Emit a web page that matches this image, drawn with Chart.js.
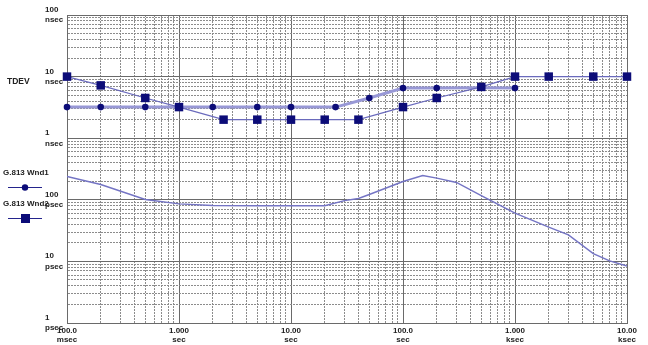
<!DOCTYPE html>
<html>
<head>
<meta charset="utf-8">
<title>TDEV</title>
<script src="https://cdn.jsdelivr.net/npm/chart.js@4"></script>
<style>
  html, body { margin: 0; padding: 0; background: #fff; }
  canvas { display: block; }
</style>
</head>
<body>
<canvas id="chart" width="648" height="345"></canvas>
<script>
// tau in seconds, TDEV in nsec
const wnd1Tau = [0.1, 0.2, 0.5, 1, 2, 5, 10, 25, 50, 100, 200, 500, 1000];
const wnd1Tdev = [3.2, 3.2, 3.2, 3.2, 3.2, 3.2, 3.2, 3.2, 4.5, 6.5, 6.5, 6.6, 6.5];

const wnd2Tau = [0.1, 0.2, 0.5, 1, 2.5, 5, 10, 20, 40, 100, 200, 500, 1000, 2000, 5000, 10000];
const wnd2Tdev = [10, 7.2, 4.5, 3.2, 2.0, 2.0, 2.0, 2.0, 2.0, 3.2, 4.5, 6.8, 10, 10, 10, 10];

// measured curve, TDEV in psec
const measTau = [0.1, 0.2, 0.5, 1, 2, 5, 10, 20, 30, 40, 50, 100, 150, 200, 300, 500, 1000, 2000, 3000, 5000, 7000, 10000];
const measTdev = [239, 177, 101, 86, 81, 80, 80, 80, 97, 105, 122, 198, 248, 225, 191, 117, 61, 36, 27, 13.4, 10.2, 8.4];

const xTickLabels = [['100.0', 'msec'], ['1.000', 'sec'], ['10.00', 'sec'], ['100.0', 'sec'], ['1.000', 'ksec'], ['10.00', 'ksec']];
const yTickLabels = [['1', 'psec'], ['10', 'psec'], ['100', 'psec'], ['1', 'nsec'], ['10', 'nsec'], ['100', 'nsec']];

const FONT = 'Arial, "Liberation Sans", sans-serif';
const markColor = '#0c0c78';

const toPoints = (xs, ys, k = 1) => xs.map((x, i) => ({ x: x, y: ys[i] * k }));

const isDecade = (v) => {
    if (!v) return false;
    const l = Math.log10(v);
    return Math.abs(l - Math.round(l)) < 1e-9;
};

// 1..9 per decade, so every minor grid line is there
const logTicks = (minExp, maxExp) => {
    const out = [];
    for (let e = minExp; e < maxExp; e++) {
        for (let m = 1; m < 10; m++) out.push({ value: m * Math.pow(10, e) });
    }
    out.push({ value: Math.pow(10, maxExp) });
    return out;
};

const gridOpts = {
    color: (c) => (c.tick && isDecade(c.tick.value)) ? '#6a6a6a' : '#8c8c8c',
    lineWidth: 1,
    drawTicks: false,
};
const borderOpts = {
    display: true,
    color: '#6a6a6a',
    dash: (c) => (c.tick && !isDecade(c.tick.value)) ? [2, 1] : [],
};

const sideText = {
    id: 'sideText',
    afterDraw(chart) {
        const ctx = chart.ctx;
        ctx.save();
        ctx.textBaseline = 'middle';
        ctx.fillStyle = '#222';
        ctx.font = 'bold 8.5px ' + FONT;
        ctx.fillText('TDEV', 7, 82);

        ctx.font = 'bold 8px ' + FONT;
        chart.data.datasets.slice(0, 2).forEach((ds, i) => {
            const ty = 173 + i * 31;
            const ly = ty + 14;
            ctx.fillStyle = '#222';
            ctx.fillText(ds.label, 3, ty);
            ctx.strokeStyle = '#24248c';
            ctx.lineWidth = 1;
            ctx.beginPath();
            ctx.moveTo(8, ly + 0.5);
            ctx.lineTo(42, ly + 0.5);
            ctx.stroke();
            ctx.fillStyle = markColor;
            if (ds.pointStyle === 'rect') {
                ctx.fillRect(21, ly - 4, 9, 9);
            } else {
                ctx.beginPath();
                ctx.arc(25, ly + 0.5, 3.2, 0, Math.PI * 2);
                ctx.fill();
            }
        });
        ctx.restore();
    }
};

const chart = new Chart(document.getElementById('chart'), {
    type: 'line',
    data: {
        datasets: [
            {
                label: 'G.813 Wnd1',
                data: toPoints(wnd1Tau, wnd1Tdev),
                borderColor: '#9898d6',
                borderWidth: 3,
                pointStyle: 'circle',
                pointRadius: 3.3,
                pointBackgroundColor: markColor,
                pointBorderWidth: 0,
                order: 1,
                clip: 8,
            },
            {
                label: 'G.813 Wnd2',
                data: toPoints(wnd2Tau, wnd2Tdev),
                borderColor: '#6a6abc',
                borderWidth: 1.2,
                pointStyle: 'rect',
                pointRadius: 6,
                pointBackgroundColor: markColor,
                pointBorderWidth: 0,
                order: 0,
                clip: 8,
            },
            {
                label: '',
                data: toPoints(measTau, measTdev, 0.001),
                borderColor: '#7474c4',
                borderWidth: 1.4,
                pointRadius: 0,
                order: 2,
            },
        ],
    },
    options: {
        responsive: false,
        animation: false,
        events: [],
        layout: { padding: { left: 45, top: 15, right: 21, bottom: 0 } },
        plugins: { legend: { display: false }, tooltip: { enabled: false } },
        scales: {
            x: {
                type: 'logarithmic',
                min: 0.1,
                max: 10000,
                afterBuildTicks: (s) => { s.ticks = logTicks(-1, 4); },
                afterFit: (s) => { s.height = 22; },
                grid: gridOpts,
                border: borderOpts,
                ticks: {
                    autoSkip: false,
                    maxRotation: 0,
                    padding: 3,
                    color: '#222',
                    font: { family: FONT, size: 8, weight: 'bold', lineHeight: 1.15 },
                    callback: (v) => isDecade(v) ? xTickLabels[Math.round(Math.log10(v)) + 1] : '',
                },
            },
            y: {
                type: 'logarithmic',
                min: 0.001,
                max: 100,
                afterBuildTicks: (s) => { s.ticks = logTicks(-3, 2); },
                afterFit: (s) => { s.width = 22; },
                grid: gridOpts,
                border: borderOpts,
                ticks: {
                    autoSkip: false,
                    crossAlign: 'far',
                    padding: 0,
                    color: '#222',
                    font: { family: FONT, size: 8, weight: 'bold', lineHeight: 1.3 },
                    callback: (v) => isDecade(v) ? yTickLabels[Math.round(Math.log10(v)) + 3] : '',
                },
            },
        },
    },
    plugins: [sideText],
});
</script>
</body>
</html>
